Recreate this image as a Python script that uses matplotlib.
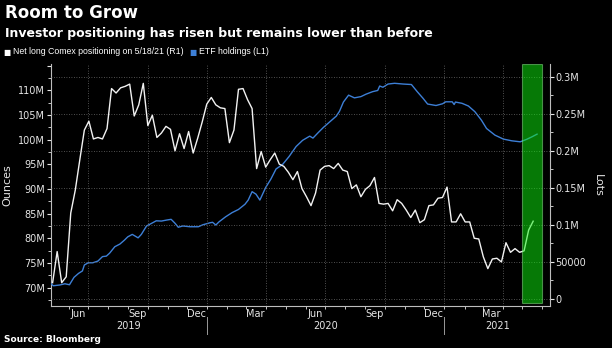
import matplotlib
matplotlib.use("Agg")
import matplotlib.pyplot as plt
import matplotlib.dates as mdates
import matplotlib.transforms as mtransforms
import pandas as pd

# Net long Comex positioning (weekly, thousands of lots, right axis)
net_long_start = "2019-05-07"
net_long_k = [
    22, 64, 22, 30, 116, 147, 188, 228, 240, 216,
    218, 216, 230, 284, 278, 285, 287, 290, 247, 262,
    291, 234, 248, 218, 224, 233, 229, 200, 223, 203,
    226, 197, 217, 239, 263, 272, 262, 258, 257, 211,
    228, 283, 284, 269, 257, 176, 199, 178, 188, 197,
    182, 179, 171, 161, 172, 149, 138, 126, 143, 174,
    179, 180, 176, 183, 174, 172, 149, 154, 138, 148,
    153, 164, 129, 128, 129, 119, 134, 129, 120, 110,
    120, 103, 107, 126, 127, 136, 137, 151, 104, 104,
    115, 104, 104, 82, 81, 57, 41, 54, 55, 50,
    76, 63, 68, 63, 65, 93, 105,
]

# ETF holdings (million ounces, left axis)
etf_dates = [
    "2019-05-04", "2019-05-08", "2019-05-18", "2019-05-26", "2019-06-02",
    "2019-06-09", "2019-06-16", "2019-06-22", "2019-06-25", "2019-07-01",
    "2019-07-08", "2019-07-16", "2019-07-23", "2019-07-29", "2019-08-03",
    "2019-08-11", "2019-08-19", "2019-08-26", "2019-08-31", "2019-09-07",
    "2019-09-16", "2019-09-21", "2019-09-29", "2019-10-07", "2019-10-14",
    "2019-10-22", "2019-10-30", "2019-11-06", "2019-11-12", "2019-11-17",
    "2019-11-24", "2019-12-05", "2019-12-18", "2019-12-25", "2020-01-05",
    "2020-01-09", "2020-01-14", "2020-01-19", "2020-01-29", "2020-02-08",
    "2020-02-18", "2020-02-28", "2020-03-04", "2020-03-10", "2020-03-16",
    "2020-03-22", "2020-03-31", "2020-04-08", "2020-04-16", "2020-04-26",
    "2020-05-06", "2020-05-17", "2020-05-27", "2020-06-07", "2020-06-12",
    "2020-06-20", "2020-06-28", "2020-07-08", "2020-07-18", "2020-07-23",
    "2020-07-29", "2020-08-06", "2020-08-15", "2020-08-25", "2020-09-02",
    "2020-09-12", "2020-09-20", "2020-09-23", "2020-09-28", "2020-10-06",
    "2020-10-16", "2020-10-29", "2020-11-11", "2020-11-20", "2020-11-29",
    "2020-12-06", "2020-12-19", "2020-12-29", "2021-01-03", "2021-01-13",
    "2021-01-16", "2021-01-18", "2021-01-28", "2021-02-07", "2021-02-17",
    "2021-02-27", "2021-03-07", "2021-03-20", "2021-04-02", "2021-04-15",
    "2021-04-28", "2021-05-08", "2021-05-16", "2021-05-24",
]
etf_moz = [
    70.9, 70.4, 70.55, 70.8, 70.6, 72.1, 72.9, 73.4, 74.6, 75.05,
    75.05, 75.4, 76.3, 76.4, 77.0, 78.3, 78.85, 79.65, 80.3, 80.8,
    80.1, 80.8, 82.5, 83.05, 83.55, 83.5, 83.7, 83.85, 83.05, 82.25,
    82.5, 82.35, 82.35, 82.75, 83.15, 83.25, 82.7, 83.35, 84.35, 85.2,
    85.85, 86.9, 87.75, 89.45, 88.95, 87.75, 90.3, 92.0, 94.05, 94.95,
    96.55, 98.6, 99.85, 100.7, 100.3, 101.4, 102.45, 103.6, 104.75, 105.75,
    107.6, 109.0, 108.45, 108.7, 109.2, 109.7, 109.95, 110.85, 110.6, 111.25,
    111.4, 111.25, 111.15, 109.7, 108.35, 107.2, 106.9, 107.25, 107.65, 107.65,
    107.1, 107.6, 107.35, 106.8, 105.65, 103.95, 102.25, 100.9, 100.1, 99.75,
    99.55, 100.05, 100.55, 101.1,
]

left_ticks = [70, 75, 80, 85, 90, 95, 100, 105, 110, 115]
right_ticks = [0, 50000, 100000, 150000, 200000, 250000, 300000]
right_labels = ["0", "50000", "0.1M", "0.15M", "0.2M", "0.25M", "0.3M"]
month_ticks = ["2019-06-15", "2019-09-15", "2019-12-15", "2020-03-15",
               "2020-06-15", "2020-09-15", "2020-12-15", "2021-03-15"]
month_labels = ["Jun", "Sep", "Dec", "Mar", "Jun", "Sep", "Dec", "Mar"]
years = ["2019", "2020", "2021"]
highlight = ("2021-05-01", "2021-05-31")
x_range = ("2019-05-04", "2021-06-13")

BG = "black"
FG = "#e6e6e6"
GRID = "#6a6a6a"
BLUE = "#3d7fd6"

net_dates = pd.date_range(net_long_start, periods=len(net_long_k), freq="7D")
net_lots = [v * 1000 for v in net_long_k]
etf_dt = pd.to_datetime(etf_dates)
xmin, xmax = pd.to_datetime(x_range[0]), pd.to_datetime(x_range[1])

fig = plt.figure(figsize=(6.12, 3.48), dpi=100, facecolor=BG)
ax = fig.add_axes([0.0828, 0.1193, 0.8159, 0.6967])
ax.set_facecolor(BG)
ax2 = ax.twinx()
ax2.patch.set_visible(False)

ax.plot(etf_dt, etf_moz, color=BLUE, lw=1.0, zorder=3)
ax2.plot(net_dates, net_lots, color="#f2f2f2", lw=1.0, zorder=3)

ax.set_xlim(xmin, xmax)
ax.set_ylim(66.2, 115.3)
ax2.set_ylim(-10100, 317100)

# grid: horizontal from the right axis, vertical at quarter starts
for v in right_ticks:
    ax2.axhline(v, color=GRID, lw=0.6, ls=(0, (1, 2)), zorder=1)
for q in pd.date_range("2019-07-01", xmax, freq="QS"):
    ax2.axvline(q, color=GRID, lw=0.6, ls=(0, (1, 2)), zorder=1)

ax2.axvspan(pd.to_datetime(highlight[0]), pd.to_datetime(highlight[1]),
            ymin=0.015, ymax=1.0, facecolor=(0.05, 0.95, 0.05), alpha=0.5,
            edgecolor="#8fe88f", lw=0.8, zorder=5)

# left axis
ax.set_yticks(left_ticks)
ax.set_yticklabels([f"{v}M" if v < 115 else "" for v in left_ticks])
ax.set_yticks([v + 2.5 for v in range(65, 115, 5)], minor=True)
ax.tick_params(axis="y", which="both", colors=FG, labelsize=7, direction="out",
               pad=1)
ax.tick_params(axis="y", which="major", length=3)
ax.tick_params(axis="y", which="minor", length=2)
ax.set_ylabel("Ounces", color=FG, fontsize=8, labelpad=4)

# right axis
ax2.set_yticks(right_ticks)
ax2.set_yticklabels(right_labels)
ax2.set_yticks([v + 25000 for v in right_ticks[:-1]], minor=True)
ax2.tick_params(axis="y", which="both", colors=FG, labelsize=7, direction="out",
                pad=1)
ax2.tick_params(axis="y", which="major", length=3)
ax2.tick_params(axis="y", which="minor", length=2)
ax2.set_ylabel("Lots", color=FG, fontsize=8, rotation=270, labelpad=12)

# x axis: month labels mid-month, minor ticks at month starts
ax.set_xticks(pd.to_datetime(month_ticks))
ax.set_xticklabels(month_labels)
ax.xaxis.set_minor_locator(mdates.MonthLocator())
ax.tick_params(axis="x", which="major", length=0, colors=FG, labelsize=7, pad=1.5)
ax.tick_params(axis="x", which="minor", length=2.5, colors=FG, direction="out")

for a in (ax, ax2):
    a.spines["top"].set_visible(False)
    for s in ("left", "right", "bottom"):
        a.spines[s].set_color("#bdbdbd")
        a.spines[s].set_linewidth(0.8)
ax.spines["right"].set_visible(False)
ax2.spines["left"].set_visible(False)
ax2.spines["bottom"].set_visible(False)

# year labels and separators
trans = mtransforms.blended_transform_factory(ax.transData, ax.transAxes)
bounds = [xmin, pd.Timestamp("2020-01-01"), pd.Timestamp("2021-01-01"), xmax]
for i, yr in enumerate(years):
    mid = bounds[i] + (bounds[i + 1] - bounds[i]) / 2
    ax.text(mid, -0.082, yr, transform=trans, ha="center", va="center",
            color=FG, fontsize=7)
for b in bounds[1:3]:
    ax.plot([b, b], [-0.045, -0.115], transform=trans, color="#9a9a9a",
            lw=0.7, clip_on=False)

# titles, legend, source
fig.text(0.008, 1 - 13 / 348, "Room to Grow", color="white", fontsize=12,
         fontweight="bold", va="center", ha="left")
fig.text(0.008, 1 - 33.5 / 348,
         "Investor positioning has risen but remains lower than before",
         color="white", fontsize=9, fontweight="bold", va="center", ha="left")
fig.text(0.006, 1 - 52 / 348, "\u25a0", color="white", fontsize=5.5,
         va="center", ha="left")
fig.text(0.021, 1 - 52 / 348, "Net long Comex positioning on 5/18/21 (R1)",
         color="white", fontsize=6.3, va="center", ha="left",
         family="Liberation Sans")
fig.text(0.310, 1 - 52 / 348, "\u25a0", color=BLUE, fontsize=5.5,
         va="center", ha="left")
fig.text(0.325, 1 - 52 / 348, "ETF holdings (L1)",
         color="white", fontsize=6.3, va="center", ha="left",
         family="Liberation Sans")
fig.text(0.006, 1 - 340 / 348, "Source: Bloomberg", color="white",
         fontsize=6.5, fontweight="bold", va="center", ha="left")

fig.savefig("out.png", dpi=100, facecolor=BG)
